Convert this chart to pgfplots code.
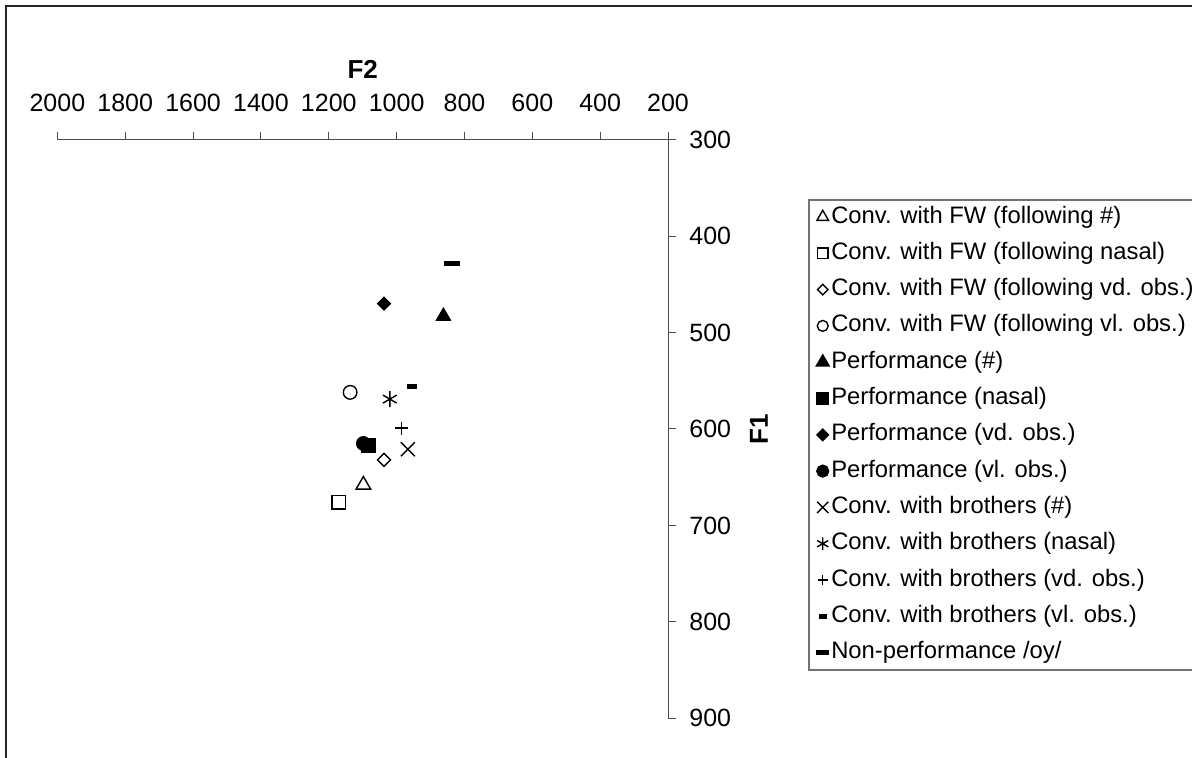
\documentclass[border=0pt]{standalone}
\usepackage{fontspec}
\setmainfont{Liberation Sans}
\usepackage{pgfplots}
\pgfplotsset{compat=1.18}
\begin{document}
\begin{tikzpicture}
\useasboundingbox (0,0) rectangle (596pt,379pt);
\draw[line width=1pt, black!85] (3pt,-20pt) rectangle (620pt,376pt);
\begin{axis}[
  at={(28.7pt,19.85pt)}, anchor=south west,
  scale only axis, width=305.3pt, height=289.3pt,
  xmin=200, xmax=2000, ymin=300, ymax=900,
  x dir=reverse, y dir=reverse,
  axis x line*=top, axis y line*=right,
  axis line style={-, black!70, line width=0.5pt},
  tick style={black!70, line width=0.5pt},
  tick align=outside, major tick length=4pt,
  xtick={200,400,...,2000}, ytick={300,400,...,900},
  /pgf/number format/assume math mode=true,
  /pgf/number format/1000 sep={},
  ticklabel style={font=\fontsize{12.5}{14}\selectfont, inner sep=0pt},
  xticklabel style={anchor=south, yshift=10pt},
  yticklabel style={anchor=west, xshift=6.5pt},
  xlabel={\textbf{F2}}, ylabel={\textbf{F1}},
  xlabel style={at={(axis description cs:0.5,1)}, anchor=center, yshift=35.3pt, font=\fontsize{13}{15}\selectfont},
  ylabel style={at={(axis description cs:1.149,0.5)}, anchor=center, font=\fontsize{13}{15}\selectfont},
  legend style={at={(axis description cs:1.2293,0.8975)}, anchor=north west,
    draw=black!55, line width=1pt, font=\fontsize{11.9}{14}\selectfont,
    inner xsep=2.6pt, inner ysep=2.5pt, row sep=6.15pt, column sep=0pt,
    nodes={inner sep=0pt, text height=9pt, text depth=3pt}},
  legend cell align=left,
  legend image code/.code={\path[draw=none, fill=none] (0cm,-0.05pt) rectangle (0.3cm,0.05pt);
    \draw[mark repeat=2,mark phase=2,#1,every mark/.append style={scale=0.8}] plot coordinates {(0cm,0cm) (0.15cm,0cm) (0.3cm,0cm)};},
]
% Conv. with FW
\addplot[only marks, black, mark=triangle, mark size=4.2pt, mark options={line width=0.7pt}] coordinates {(1098,658)};
\addplot[only marks, black, mark=square, mark size=3.4pt, mark options={line width=0.7pt}] coordinates {(1170,676)};
\addplot[only marks, black, mark=square, mark size=2.3pt, mark options={rotate=45, line width=0.7pt}] coordinates {(1037,632)};
\addplot[only marks, black, mark=o, mark size=3.4pt, mark options={line width=0.7pt}] coordinates {(1137,562)};
% Performance
\addplot[only marks, black, mark=triangle*, mark size=4.2pt, mark options={fill=black}] coordinates {(862,483)};
\addplot[only marks, black, mark=square*, mark size=3.5pt, mark options={fill=black}] coordinates {(1083,617)};
\addplot[only marks, black, mark=square*, mark size=2.35pt, mark options={rotate=45, fill=black}] coordinates {(1037,470)};
\addplot[only marks, black, mark=*, mark size=3.5pt, mark options={fill=black}] coordinates {(1098,615)};
% Conv. with brothers
\addplot[only marks, black, mark=x, mark size=4.95pt, mark options={line width=0.7pt}] coordinates {(967,621)};
\addplot[only marks, black, mark=asterisk, mark size=4pt, mark options={line width=0.7pt}] coordinates {(1020,569)};
\addplot[only marks, black, mark=+, mark size=3.25pt, mark options={line width=0.7pt}] coordinates {(986,599)};
\addplot[only marks, black, mark=-, mark size=2.5pt, mark options={line width=2.5pt}] coordinates {(955,556)};
% Non-performance
\addplot[only marks, black, mark=-, mark size=4pt, mark options={line width=2.5pt}] coordinates {(838,428)};
\legend{Conv. with FW (following \#),
  Conv. with FW (following nasal),
  Conv. with FW (following vd. obs.),
  Conv. with FW (following vl. obs.)\hspace{6pt},
  Performance (\#),
  Performance (nasal),
  Performance (vd. obs.),
  Performance (vl. obs.),
  Conv. with brothers (\#),
  Conv. with brothers (nasal),
  Conv. with brothers (vd. obs.),
  Conv. with brothers (vl. obs.),
  Non-performance /oy/}
\end{axis}
\end{tikzpicture}
\end{document}
